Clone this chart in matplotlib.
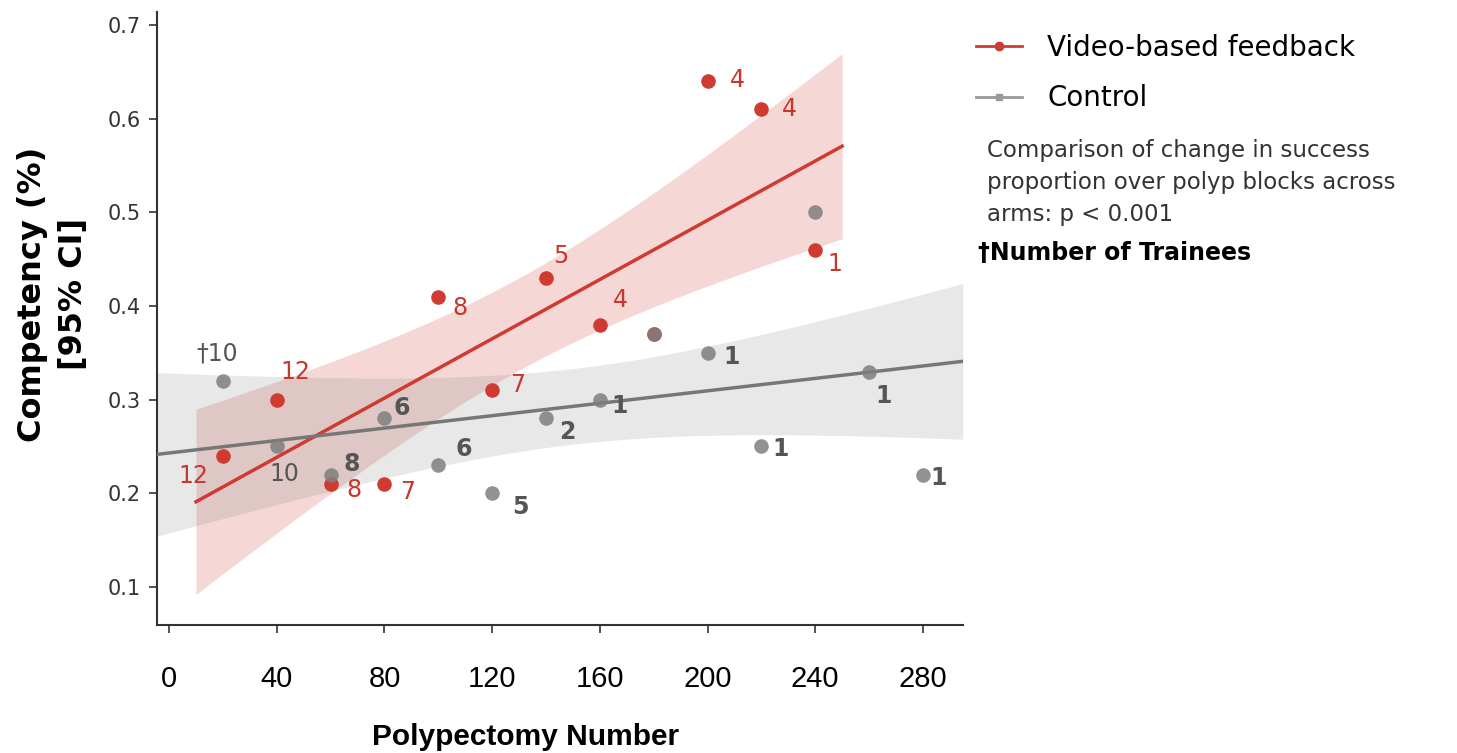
import matplotlib
matplotlib.use("Agg")
import matplotlib.pyplot as plt
from matplotlib.lines import Line2D
import numpy as np

# data
vbf_x = [20, 40, 60, 80, 100, 120, 140, 160, 180, 200, 220, 240]
vbf_y = [0.24, 0.30, 0.21, 0.21, 0.41, 0.31, 0.43, 0.38, 0.37, 0.64, 0.61, 0.46]
vbf_n = ["12", "12", "8", "7", "8", "7", "5", "4", "", "4", "4", "1"]

ctl_x = [20, 40, 60, 80, 100, 120, 140, 160, 180, 200, 220, 240, 260, 280]
ctl_y = [0.32, 0.25, 0.22, 0.28, 0.23, 0.20, 0.28, 0.30, 0.37, 0.35, 0.25, 0.50, 0.33, 0.22]
ctl_n = ["\u202010", "10", "8", "6", "6", "5", "2", "1", "", "1", "1", "", "1", "1"]

x_ticks = [0, 40, 80, 120, 160, 200, 240, 280]
y_ticks = [0.1, 0.2, 0.3, 0.4, 0.5, 0.6, 0.7]

# label offsets in pixels (dx, dy), dy positive = up
vbf_off = [(-30, -20), (19, 28), (23, -6), (23, -8), (22, -11), (25, 5),
           (15, 22), (21, 25), (0, 0), (30, 1), (28, 0), (20, -14)]
ctl_off = [(-6, 27), (8, -28), (21, 11), (17, 10), (25, 16), (28, -14),
           (21, -14), (20, -6), (0, 0), (24, -4), (19, -3), (0, 0), (14, -24), (16, -3)]

RED = "#cf3b30"
GREY = "#7f7f7f"


def fit_band(x, y, grid, z=1.96):
    x = np.asarray(x, float)
    y = np.asarray(y, float)
    b, a = np.polyfit(x, y, 1)
    resid = y - (a + b * x)
    s = np.sqrt(np.sum(resid ** 2) / (len(x) - 2))
    se = s * np.sqrt(1 / len(x) + (grid - x.mean()) ** 2 / np.sum((x - x.mean()) ** 2))
    fit = a + b * grid
    return fit, fit - z * se, fit + z * se


fig = plt.figure(figsize=(14.57, 7.53), dpi=100)
ax = fig.add_axes([0.1078, 0.170, 0.553, 0.814])
ax.set_xlim(-4.46, 294.8)
ax.set_ylim(0.0594, 0.7139)

# regression bands
g_red = np.linspace(min(vbf_x) - 10, max(vbf_x) + 10, 100)
f, lo, hi = fit_band(vbf_x, vbf_y, g_red)
ax.fill_between(g_red, lo, hi, color=RED, alpha=0.2, lw=0)
ax.plot(g_red, f, color=RED, lw=2.5, zorder=3)

g_grey = np.linspace(*ax.get_xlim(), 100)
f, lo, hi = fit_band(ctl_x, ctl_y, g_grey)
ax.fill_between(g_grey, lo, hi, color="#808080", alpha=0.18, lw=0)
ax.plot(g_grey, f, color="#777777", lw=2.5, zorder=3)

ax.scatter(vbf_x, vbf_y, s=110, color=RED, zorder=4, lw=0)
ax.scatter(ctl_x, ctl_y, s=110, color=GREY, alpha=0.85, zorder=5, lw=0)

for x, y, t, (dx, dy) in zip(vbf_x, vbf_y, vbf_n, vbf_off):
    if t:
        ax.annotate(t, (x, y), xytext=(dx, dy), textcoords="offset pixels",
                    ha="center", va="center", fontsize=17, color="#c8372d")
for x, y, t, (dx, dy) in zip(ctl_x, ctl_y, ctl_n, ctl_off):
    if t:
        ax.annotate(t, (x, y), xytext=(dx, dy), textcoords="offset pixels",
                    ha="center", va="center", fontsize=17, color="#555555",
                    fontweight="normal" if "10" in t else "bold")

for side in ["top", "right"]:
    ax.spines[side].set_visible(False)
for side in ["left", "bottom"]:
    ax.spines[side].set_color("#333333")
    ax.spines[side].set_linewidth(1.5)

ax.set_xticks(x_ticks)
ax.set_yticks(y_ticks)
ax.set_yticklabels([f"{v:.1f}" for v in y_ticks], fontsize=15, color="#333333",
                   family="DejaVu Sans")
ax.set_xticklabels([str(v) for v in x_ticks], fontsize=21, family="Liberation Sans")
ax.tick_params(axis="x", length=6, width=1.2, color="#333333", pad=23)
ax.tick_params(axis="y", length=6, width=1.2, color="#333333", pad=6)

ax.set_xlabel("Polypectomy Number", fontsize=21.5, fontweight="bold", family="Liberation Sans")
ax.xaxis.set_label_coords(0.457, -0.16)
ax.set_ylabel("Competency (%)\n[95% CI]", fontsize=23, fontweight="bold",
              family="DejaVu Sans", linespacing=1.4)
ax.yaxis.set_label_coords(-0.085, 0.54)

handles = [Line2D([], [], color=RED, marker="o", markersize=6, lw=2),
           Line2D([], [], color="#999999", marker="s", markersize=5, lw=2)]
fig.legend(handles, ["Video-based feedback", "Control"], loc="upper left",
           bbox_to_anchor=(0.653, 0.988), frameon=False, handlelength=1.65,
           handletextpad=0.9, labelspacing=0.8,
           prop={"family": "DejaVu Sans", "size": 20})

fig.text(0.6775, 0.815, "Comparison of change in success\nproportion over polyp blocks across\narms: p < 0.001",
         fontsize=16.5, color="#333333", family="DejaVu Sans", va="top", linespacing=1.5)
fig.text(0.671, 0.664, "\u2020Number of Trainees", fontsize=17, fontweight="bold",
         family="DejaVu Sans", va="center")

fig.savefig("out.png", dpi=100)
